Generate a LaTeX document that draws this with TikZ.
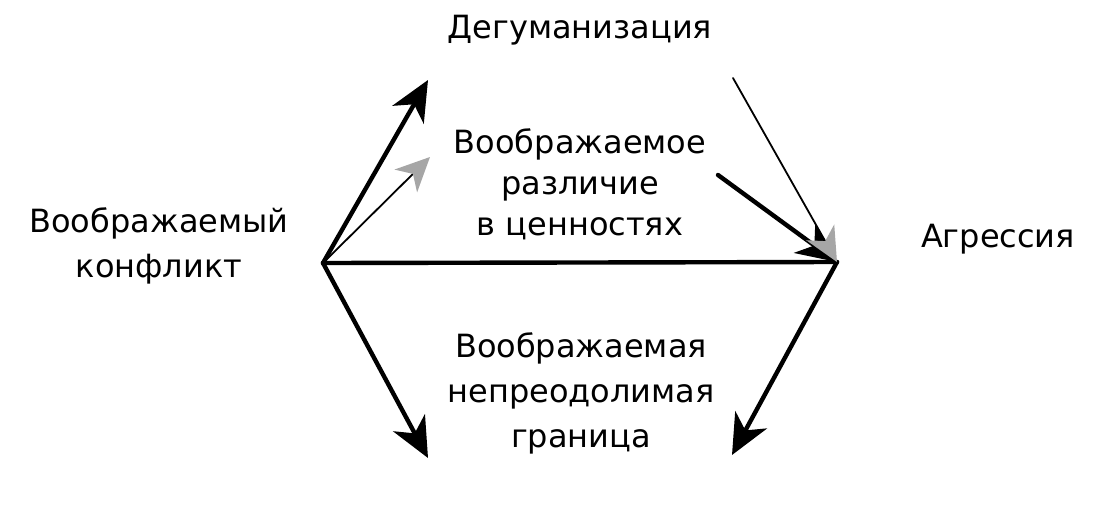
\documentclass[tikz,border=0pt]{standalone}
\usepackage{fontspec}
\setmainfont{DejaVu Sans}
\usetikzlibrary{arrows.meta}
\begin{document}
\begin{tikzpicture}[x=0.5pt, y=-0.5pt, line cap=round, line join=round,
		>={Stealth[length=20pt, width=18pt, inset=6pt]},
		lbl/.style={inner sep=0pt, anchor=base, align=center, font=\fontsize{16}{22.5}\selectfont},
		bold/.style={line width=2.2pt},
		fine/.style={line width=0.9pt},
		greyhead/.style={-{Stealth[length=17pt, width=16pt, inset=5pt, color=gray!70]}}]
	\useasboundingbox (0,0) rectangle (1103,509);
	\coordinate (L) at (323,263); \coordinate (R) at (837,262);
	\coordinate (tipA) at (428,80); \coordinate (tipB) at (430,157);
	\coordinate (tipC) at (428,458); \coordinate (tipD) at (732,455);
	\coordinate (E) at (733,78); \coordinate (F) at (718,175);
	% labels
	\node[lbl] (dehum) at (580,38) {Дегуманизация};
	\node[lbl, font=\fontsize{16}{20.5}\selectfont] (values) at (580,235) {Воображаемое\\различие\\в ценностях};
	\node[lbl] (barrier) at (581,447) {Воображаемая\\непреодолимая\\граница};
	\node[lbl] (conflict) at (159,277) {Воображаемый\\конфликт};
	\node[lbl] (aggr) at (998,247) {Агрессия};
	% arrows
	\draw[bold,->] (L) -- (tipA);
	\draw[fine,greyhead] (L) -- (tipB);
	\draw[bold] (L) -- (R);
	\draw[bold,->] (L) -- (tipC);
	\draw[bold,->] (R) -- (tipD);
	\draw[bold,->] (F) -- (R);
	\draw[fine,greyhead] (E) -- (R);
\end{tikzpicture}
\end{document}
